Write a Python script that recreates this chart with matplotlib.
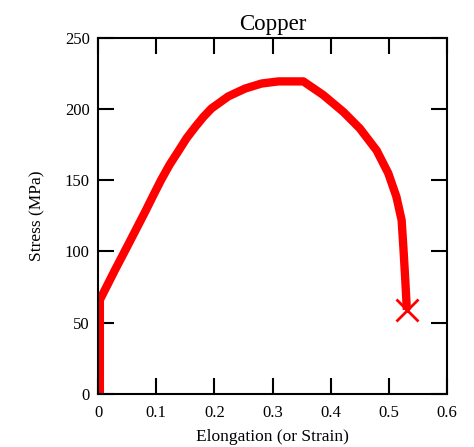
import numpy as np
import matplotlib
matplotlib.use("Agg")
import matplotlib.pyplot as plt

# stress-strain curve
strain = [0.003, 0.003, 0.029, 0.052, 0.081, 0.095, 0.108, 0.123, 0.138, 0.152,
          0.167, 0.181, 0.195, 0.224, 0.253, 0.281, 0.31, 0.353, 0.387, 0.422,
          0.450, 0.479, 0.499, 0.513, 0.522, 0.525, 0.528, 0.531]
stress = [0.0, 66.0, 87.0, 105.0, 128.0, 139.5, 150.0, 161.0, 170.5, 179.5,
          187.5, 194.5, 200.5, 209.0, 214.5, 218.0, 219.5, 219.5, 210.0, 198.0,
          186.5, 171.0, 155.0, 138.5, 122.0, 103.0, 82.0, 59.0]

plt.rcParams['font.family'] = ['Liberation Serif', 'DejaVu Serif']

fig = plt.figure(figsize=(4.74, 4.47), dpi=100)
ax = fig.add_axes([0.207, 0.119, 0.736, 0.796])

ax.plot(strain, stress, color='#ff0000', lw=6, solid_joinstyle='round',
        solid_capstyle='butt')
ax.plot(strain[-1], stress[-1], marker='x', color='#ff0000', ms=16, mew=2)

ax.set_xlim(0, 0.6)
ax.set_ylim(0, 250)
ax.set_xticks(np.arange(0, 0.61, 0.1))
ax.set_xticklabels(['0', '0.1', '0.2', '0.3', '0.4', '0.5', '0.6'])
ax.set_yticks(np.arange(0, 251, 50))

ax.tick_params(direction='in', length=11.5, width=1.5, top=True, right=True,
               labelsize=12)
ax.tick_params(axis='x', pad=8)
ax.tick_params(axis='y', pad=6)
for sp in ax.spines.values():
    sp.set_linewidth(1.5)

ax.set_title('Copper', fontsize=16.5, pad=6)
ax.set_xlabel('Elongation (or Strain)', fontsize=12.5, labelpad=6)
ax.set_ylabel('Stress (MPa)', fontsize=12.5, labelpad=14)

fig.savefig('out.png', dpi=100)
